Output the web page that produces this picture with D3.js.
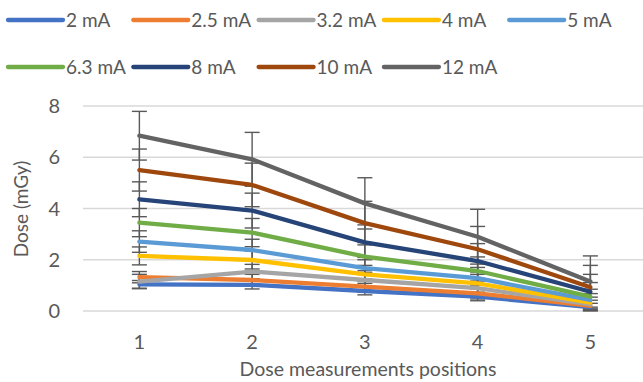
<!DOCTYPE html>
<html>
<head>
<meta charset="UTF-8">
<title>Dose by measurement position</title>
<style>
  body { margin: 0; padding: 0; background: #ffffff; }
  svg { display: block; }
  text { font-family: Lato, "Open Sans", sans-serif; fill: #595959; }
</style>
<script src="https://d3js.org/d3.v7.min.js"></script>
</head>
<body>
<script>
// data
const positions = ["1", "2", "3", "4", "5"];
const seriesNames = ["2 mA", "2.5 mA", "3.2 mA", "4 mA", "5 mA", "6.3 mA", "8 mA", "10 mA", "12 mA"];
const dose2 = [1.04, 1.02, 0.78, 0.56, 0.15];
const dose25 = [1.32, 1.21, 0.95, 0.69, 0.20];
const dose32 = [1.15, 1.54, 1.21, 0.89, 0.26];
const dose4 = [2.15, 1.99, 1.43, 1.08, 0.33];
const dose5 = [2.71, 2.38, 1.67, 1.28, 0.43];
const dose63 = [3.45, 3.06, 2.12, 1.56, 0.56];
const dose8 = [4.36, 3.92, 2.68, 1.95, 0.75];
const dose10 = [5.50, 4.92, 3.43, 2.41, 0.93];
const dose12 = [6.84, 5.92, 4.20, 2.90, 1.15];
// error bar half-widths (mGy)
const err2 = [0.15, 0.16, 0.15, 0.16, 0.15];
const err25 = [0.22, 0.22, 0.22, 0.22, 0.22];
const err32 = [0.28, 0.28, 0.28, 0.28, 0.28];
const err4 = [0.35, 0.35, 0.35, 0.35, 0.35];
const err5 = [0.42, 0.42, 0.42, 0.42, 0.42];
const err63 = [0.55, 0.55, 0.55, 0.55, 0.55];
const err8 = [0.68, 0.68, 0.68, 0.68, 0.68];
const err10 = [0.82, 0.85, 0.85, 0.89, 0.85];
const err12 = [0.95, 1.05, 1.0, 1.07, 1.0];
const yTicks = [0, 2, 4, 6, 8];

const colors = ["#4472C4", "#ED7D31", "#A5A5A5", "#FFC000", "#5B9BD5", "#70AD47", "#264478", "#9E480E", "#636363"];
const allDose = [dose2, dose25, dose32, dose4, dose5, dose63, dose8, dose10, dose12];
const allErr = [err2, err25, err32, err4, err5, err63, err8, err10, err12];

const series = seriesNames.map((name, i) => ({
  name: name,
  color: colors[i],
  values: positions.map((p, j) => ({ pos: p, v: allDose[i][j], e: allErr[i][j] }))
}));

const width = 643, height = 382;
const svg = d3.select("body").append("svg")
  .attr("width", width)
  .attr("height", height);

const x = d3.scaleBand().domain(positions).range([83, 646.75]);
const y = d3.scaleLinear().domain([0, 8]).range([311, 106]);
const cx = d => x(d) + x.bandwidth() / 2;

// gridlines
svg.append("g").selectAll("line")
  .data(yTicks)
  .join("line")
  .attr("x1", 83).attr("x2", width)
  .attr("y1", d => y(d)).attr("y2", d => y(d))
  .attr("stroke", "#d9d9d9")
  .attr("stroke-width", 1.3);

// y tick labels
svg.append("g").selectAll("text")
  .data(yTicks)
  .join("text")
  .attr("x", 60)
  .attr("y", d => y(d))
  .attr("dy", "0.36em")
  .attr("text-anchor", "end")
  .style("font-size", "20px")
  .text(d => d);

// x tick labels
svg.append("g").selectAll("text")
  .data(positions)
  .join("text")
  .attr("x", d => cx(d))
  .attr("y", 342)
  .attr("dy", "0.36em")
  .attr("text-anchor", "middle")
  .style("font-size", "20px")
  .text(d => d);

// axis titles
svg.append("text")
  .attr("x", 368)
  .attr("y", 376)
  .attr("text-anchor", "middle")
  .style("font-size", "19.5px")
  .text("Dose measurements positions");

svg.append("text")
  .attr("transform", "translate(28,209) rotate(-90)")
  .attr("text-anchor", "middle")
  .style("font-size", "19px")
  .text("Dose (mGy)");

// error bars
const errG = svg.append("g").attr("stroke", "#595959").attr("stroke-width", 1.4);
series.forEach(s => {
  const g = errG.append("g");
  g.selectAll("line.v")
    .data(s.values)
    .join("line")
    .attr("class", "v")
    .attr("x1", d => cx(d.pos)).attr("x2", d => cx(d.pos))
    .attr("y1", d => y(Math.max(0, d.v - d.e)))
    .attr("y2", d => y(d.v + d.e));
  g.selectAll("line.top")
    .data(s.values)
    .join("line")
    .attr("class", "top")
    .attr("x1", d => cx(d.pos) - 7.5).attr("x2", d => cx(d.pos) + 7.5)
    .attr("y1", d => y(d.v + d.e)).attr("y2", d => y(d.v + d.e));
  g.selectAll("line.bot")
    .data(s.values.filter(d => d.v - d.e > 0))
    .join("line")
    .attr("class", "bot")
    .attr("x1", d => cx(d.pos) - 7.5).attr("x2", d => cx(d.pos) + 7.5)
    .attr("y1", d => y(d.v - d.e)).attr("y2", d => y(d.v - d.e));
});

// series lines
const line = d3.line()
  .x(d => cx(d.pos))
  .y(d => y(d.v));

svg.append("g").selectAll("path")
  .data(series)
  .join("path")
  .attr("d", d => line(d.values))
  .attr("fill", "none")
  .attr("stroke", d => d.color)
  .attr("stroke-width", 4.3)
  .attr("stroke-linecap", "round")
  .attr("stroke-linejoin", "round");

// legend
const legend = svg.append("g");
const legItems = legend.selectAll("g")
  .data(series)
  .join("g")
  .attr("transform", (d, i) => `translate(${8 + (i % 5) * 125.3},${i < 5 ? 20 : 67})`);

legItems.append("line")
  .attr("x1", 0).attr("x2", 55)
  .attr("y1", 0).attr("y2", 0)
  .attr("stroke", d => d.color)
  .attr("stroke-width", 4.3)
  .attr("stroke-linecap", "round");

legItems.append("text")
  .attr("x", 58)
  .attr("y", 0)
  .attr("dy", "0.36em")
  .style("font-size", "19px")
  .text(d => d.name);
</script>
</body>
</html>
